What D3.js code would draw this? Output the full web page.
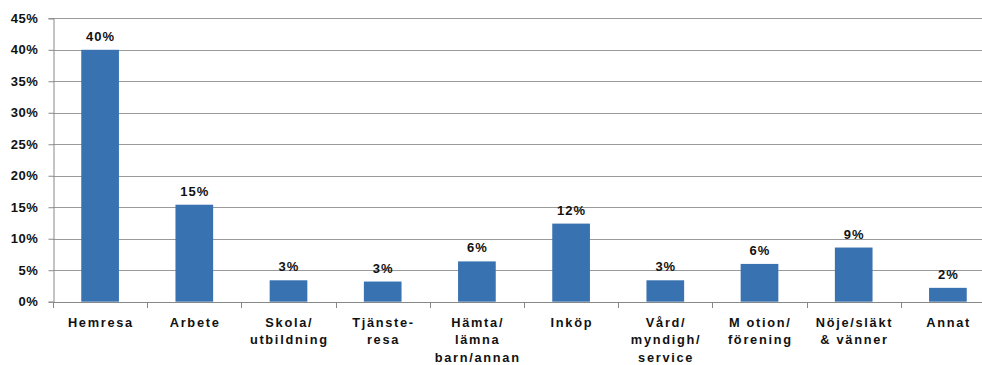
<!DOCTYPE html>
<html><head><meta charset="utf-8">
<script src="https://cdn.jsdelivr.net/npm/d3@7"></script>
<style>
html,body{margin:0;padding:0;background:#fff;}
svg{display:block;}
text{font-family:"Liberation Sans",Arial,sans-serif;font-weight:bold;fill:#111;}
</style></head>
<body>
<svg id="c" width="982" height="365"></svg>
<script>
const categories = [["Hemresa"],["Arbete"],["Skola/","utbildning"],["Tjänste-","resa"],["Hämta/","lämna","barn/annan"],["Inköp"],["Vård/","myndigh/","service"],["M otion/","förening"],["Nöje/släkt","& vänner"],["Annat"]];
const values = [40.0, 15.4, 3.4, 3.2, 6.4, 12.4, 3.4, 6.0, 8.6, 2.2];
const valueLabels = ["40%","15%","3%","3%","6%","12%","3%","6%","9%","2%"];
const yTicks = [0,5,10,15,20,25,30,35,40,45];

(function(){
const svg = d3.select("#c");
const mLeft = 53, mTop = 18.3, mBottom = 301.7, band = 94.2;
const x = d3.scaleBand().domain(d3.range(categories.length)).range([mLeft, mLeft + band*categories.length]).paddingInner(0.6).paddingOuter(0.3);
const y = d3.scaleLinear().domain([0,45]).range([mBottom, mTop]);

// gridlines
svg.append("g").selectAll("line").data(yTicks.filter(d=>d>0)).join("line")
  .attr("x1", mLeft).attr("x2", 982).attr("y1", d=>Math.round(y(d))+0.5).attr("y2", d=>Math.round(y(d))+0.5)
  .attr("stroke", "#9a9a9a").attr("stroke-width", 1);

// bars
svg.append("g").selectAll("rect").data(values).join("rect")
  .attr("x", (d,i)=>x(i)).attr("width", x.bandwidth())
  .attr("y", d=>y(d)).attr("height", d=>mBottom - y(d))
  .attr("fill", "#3872b0");

// y axis
const ya = svg.append("g").attr("transform", `translate(${mLeft+0.5},0)`)
  .call(d3.axisLeft(y).tickValues(yTicks).tickFormat(d=>d+"%").tickSize(5).tickPadding(10));
ya.select(".domain").attr("stroke","#888");
ya.selectAll(".tick line").attr("stroke","#888");
ya.selectAll("text").attr("font-size", 13).attr("fill","#111").style("letter-spacing","0.6px")
  .attr("font-family","Liberation Sans, Arial, sans-serif").attr("font-weight","bold");

// x axis line
svg.append("line").attr("x1", mLeft).attr("x2", 982).attr("y1", Math.round(mBottom)+0.5).attr("y2", Math.round(mBottom)+0.5)
  .attr("stroke","#888");
// x ticks at band boundaries
svg.append("g").selectAll("line").data(d3.range(categories.length+1)).join("line")
  .attr("x1", i=>Math.round(mLeft + i*band)+0.5).attr("x2", i=>Math.round(mLeft + i*band)+0.5)
  .attr("y1", Math.round(mBottom)).attr("y2", Math.round(mBottom)+6).attr("stroke","#888");

// category labels
const cl = svg.append("g").selectAll("text").data(categories).join("text")
  .attr("text-anchor","middle").attr("font-size", 12.8).style("letter-spacing","1.7px")
  .attr("transform", (d,i)=>`translate(${x(i)+x.bandwidth()/2+0.8},0)`);
cl.selectAll("tspan").data(d=>d).join("tspan")
  .attr("x", 0).attr("y", (d,j)=>326.5 + j*17.5).text(d=>d);

// value labels
svg.append("g").selectAll("text").data(values).join("text")
  .attr("x", (d,i)=>x(i)+x.bandwidth()/2+0.5).attr("y", d=>y(d)-9)
  .attr("text-anchor","middle").attr("font-size", 13).style("letter-spacing","1px")
  .text((d,i)=>valueLabels[i]);
})();
</script>
</body></html>
